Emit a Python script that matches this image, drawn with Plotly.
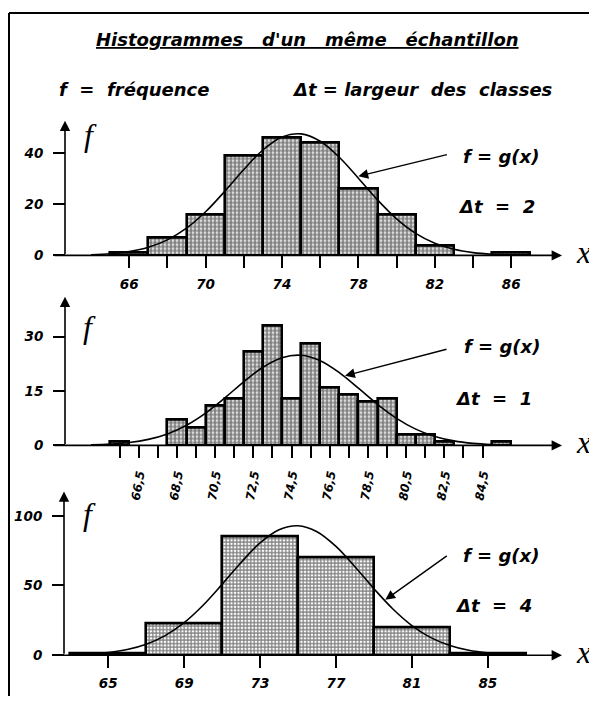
import plotly.graph_objects as go

# The page body has an 8px margin: figure pixel = reference pixel - 8
OFF = 8
W, H = 597 - OFF, 704 - OFF

# ---------------- data ----------------
# Δt = 2 : class centres and frequencies
centers_dt2 = [66, 68, 70, 72, 74, 76, 78, 80, 82, 84, 86]
freq_dt2 = [1, 7, 16, 39, 46, 44, 26, 16, 4, 0, 1]
# Δt = 1
centers_dt1 = [65.5, 66.5, 67.5, 68.5, 69.5, 70.5, 71.5, 72.5, 73.5, 74.5, 75.5,
               76.5, 77.5, 78.5, 79.5, 80.5, 81.5, 82.5, 83.5, 84.5, 85.5]
freq_dt1 = [1, 0, 0, 7, 5, 11, 13, 26, 33, 13, 28, 16, 14, 12, 13, 3, 3, 1, 0, 0, 1]
# Δt = 4
centers_dt4 = [65, 69, 73, 77, 81, 85]
freq_dt4 = [1, 23, 85, 70, 20, 1]

# curve f = g(x)
curve_x = [64, 65, 66, 67, 68, 69, 70, 71, 72, 73, 74, 75, 76, 77, 78, 79, 80, 81, 82, 83, 84, 85, 86]
curve_dt2 = [0.26, 0.66, 1.51, 3.17, 6.08, 10.66, 17.09, 25.07, 33.64, 41.29, 46.36, 47.61,
             44.74, 38.45, 30.23, 21.74, 14.30, 8.61, 4.74, 2.39, 1.10, 0.46, 0.18]
curve_dt1 = [0.14, 0.35, 0.79, 1.66, 3.17, 5.56, 8.92, 13.08, 17.56, 21.55, 24.20, 24.86,
             23.35, 20.07, 15.78, 11.35, 7.47, 4.49, 2.47, 1.25, 0.57, 0.24, 0.09]
curve_dt4 = [0.83, 1.90, 4.01, 7.81, 14.05, 23.35, 35.83, 50.81, 66.54, 80.51, 89.97, 92.86,
             88.55, 77.99, 63.45, 47.69, 33.10, 21.23, 12.57, 6.88, 3.47, 1.62, 0.70]

# ticks
xticks_dt2 = [66, 68, 70, 72, 74, 76, 78, 80, 82, 84, 86]
xlabels_dt2 = ["66", "", "70", "", "74", "", "78", "", "82", "", "86"]
xticks_dt1 = [65.5, 66.5, 67.5, 68.5, 69.5, 70.5, 71.5, 72.5, 73.5, 74.5, 75.5,
              76.5, 77.5, 78.5, 79.5, 80.5, 81.5, 82.5, 83.5, 84.5]
xlabels_dt1 = ["", "66,5", "", "68,5", "", "70,5", "", "72,5", "", "74,5", "",
               "76,5", "", "78,5", "", "80,5", "", "82,5", "", "84,5"]
xticks_dt4 = [65, 69, 73, 77, 81, 85]
xlabels_dt4 = ["65", "69", "73", "77", "81", "85"]
yticks_dt2 = [0, 20, 40]
yticks_dt1 = [0, 15, 30]
yticks_dt4 = [0, 50, 100]

# ---------------- layout helpers ----------------
FONT = "DejaVu Sans"
SERIF = "Liberation Serif"


def px_x(p):
    return (p - OFF) / W


def px_y(p):
    return 1 - (p - OFF) / H


panels = [
    dict(c=centers_dt2, f=freq_dt2, w=2, g=curve_dt2, xt=xticks_dt2, xl=xlabels_dt2, yt=yticks_dt2,
         xr=[62.01, 88.66], y0=258.3, yt_px=122, ytop=52.77, yax=65, pat=".", ang=0, xfs=13.5,
         dt="Δt\u00a0 = \u00a02", fpos=(90, 136), gtxt=(501, 158), dtxt=(496, 209),
         tip=(78.0, 31.0), tail=(90, -22)),
    dict(c=centers_dt1, f=freq_dt1, w=1, g=curve_dt1, xt=xticks_dt1, xl=xlabels_dt1, yt=yticks_dt1,
         xr=[62.01, 88.66], y0=450.5, yt_px=300, ytop=41.04, yax=65, pat=".", ang=-80, xfs=12,
         dt="Δt\u00a0 = \u00a01", fpos=(89, 331), gtxt=(502, 350), dtxt=(493, 403),
         tip=(77.3, 19.2), tail=(103, -27)),
    dict(c=centers_dt4, f=freq_dt4, w=4, g=curve_dt4, xt=xticks_dt4, xl=xlabels_dt4, yt=yticks_dt4,
         xr=[62.09, 88.91], y0=662.7, yt_px=497, ytop=117.5, yax=64, pat="+", ang=0, xfs=13.5,
         dt="Δt\u00a0 = \u00a04", fpos=(89, 520), gtxt=(501, 562), dtxt=(493, 612),
         tip=(79.6, 39.7), tail=(63, -45)),
]

fig = go.Figure()
annotations = []
shapes = []
L_px, R_px = 53, 562
TXT = dict(family=FONT, size=18, style="italic", color="black", weight="bold")

for i, p in enumerate(panels):
    n = "" if i == 0 else str(i + 1)
    xa, ya = "x" + n, "y" + n
    vals = [v if v > 0 else None for v in p["f"]]
    fig.add_trace(go.Bar(
        x=p["c"], y=vals, width=p["w"], xaxis=xa, yaxis=ya,
        marker=dict(color="white", line=dict(color="black", width=2.6),
                    pattern=dict(shape=p["pat"], fgcolor="black", bgcolor="white",
                                 size=4 if p["pat"] == "." else 3.5,
                                 solidity=0.72 if p["pat"] == "." else 0.6,
                                 fillmode="overlay")),
        hoverinfo="skip", showlegend=False))
    fig.add_trace(go.Scatter(
        x=curve_x, y=p["g"], mode="lines", xaxis=xa, yaxis=ya,
        line=dict(color="black", width=1.6, shape="spline", smoothing=1.0),
        hoverinfo="skip", showlegend=False))

    xdom = [px_x(L_px), px_x(R_px)]
    ydom = [px_y(p["y0"]), px_y(p["yt_px"])]
    ytickfont = dict(family=FONT, size=13.5, color="black", style="italic", weight="bold")
    xtickfont = dict(family=FONT, size=p["xfs"], color="black", style="italic", weight="bold")
    xkw = dict(domain=xdom, range=p["xr"], anchor=ya, showgrid=False, zeroline=False,
               showline=False, ticks="outside", ticklen=12, tickwidth=1.5, tickcolor="black",
               tickmode="array", tickvals=p["xt"], ticktext=p["xl"], tickfont=xtickfont,
               tickangle=p["ang"], ticklabelstandoff=4, fixedrange=True)
    ykw = dict(domain=ydom, range=[0, p["ytop"]], anchor="free",
               position=px_x(p["yax"]), showgrid=False, zeroline=False, showline=False,
               ticks="outside", ticklen=12, tickwidth=1.5, tickcolor="black",
               tickmode="array", tickvals=p["yt"], ticktext=[str(v) for v in p["yt"]],
               tickfont=ytickfont, ticklabelstandoff=7, fixedrange=True)
    if i == 0:
        fig.update_layout(xaxis=xkw, yaxis=ykw)
    else:
        fig.update_layout(**{"xaxis" + n: xkw, "yaxis" + n: ykw})

    # axes drawn as arrows
    yax_val = p["xr"][0] + (p["yax"] - L_px) / (R_px - L_px) * (p["xr"][1] - p["xr"][0])
    annotations.append(dict(x=p["xr"][1], y=0, xref=xa, yref=ya, ax=p["xr"][0], ay=0,
                            axref=xa, ayref=ya, text="", showarrow=True, arrowhead=2,
                            arrowsize=1.3, arrowwidth=1.6, arrowcolor="black", standoff=0))
    annotations.append(dict(x=yax_val, y=p["ytop"], xref=xa, yref=ya, ax=yax_val, ay=0,
                            axref=xa, ayref=ya, text="", showarrow=True, arrowhead=2,
                            arrowsize=1.3, arrowwidth=1.6, arrowcolor="black", standoff=0))
    # f and x labels
    annotations.append(dict(x=px_x(p["fpos"][0]), y=px_y(p["fpos"][1]), xref="paper", yref="paper",
                            text="f", showarrow=False, xanchor="center", yanchor="middle",
                            font=dict(family=SERIF, size=32, style="italic", color="black")))
    annotations.append(dict(x=px_x(583), y=px_y(p["y0"] - 3), xref="paper", yref="paper",
                            text="x", showarrow=False, xanchor="center", yanchor="middle",
                            font=dict(family=SERIF, size=32, style="italic", color="black")))
    # f = g(x) and Δt
    annotations.append(dict(x=px_x(p["gtxt"][0]), y=px_y(p["gtxt"][1]), xref="paper", yref="paper",
                            text="f\u00a0= g(x)", showarrow=False, xanchor="center", yanchor="middle",
                            font=TXT))
    annotations.append(dict(x=px_x(p["dtxt"][0]), y=px_y(p["dtxt"][1]), xref="paper", yref="paper",
                            text=p["dt"], showarrow=False, xanchor="center", yanchor="middle",
                            font=TXT))
    annotations.append(dict(x=p["tip"][0], y=p["tip"][1], xref=xa, yref=ya,
                            ax=p["tail"][0], ay=p["tail"][1], text="", showarrow=True,
                            arrowhead=2, arrowsize=1.4, arrowwidth=1.4, arrowcolor="black",
                            standoff=0))

# title and legend lines
annotations.append(dict(x=px_x(307), y=px_y(40), xref="paper", yref="paper",
                        text="Histogrammes\u00a0\u00a0 d'un\u00a0\u00a0 même\u00a0\u00a0 échantillon",
                        showarrow=False, xanchor="center", yanchor="middle",
                        font=dict(TXT, lineposition="under")))
annotations.append(dict(x=px_x(57), y=px_y(90), xref="paper", yref="paper",
                        text="f\u00a0 = \u00a0fréquence", showarrow=False, xanchor="left",
                        yanchor="middle", font=TXT))
annotations.append(dict(x=px_x(290), y=px_y(90), xref="paper", yref="paper",
                        text="Δt = largeur\u00a0 des\u00a0 classes", showarrow=False,
                        xanchor="left", yanchor="middle", font=TXT))

# frame (left and top edges)
shapes.append(dict(type="line", xref="paper", yref="paper", x0=px_x(9), x1=px_x(9),
                   y0=0, y1=px_y(13), line=dict(color="black", width=2)))
shapes.append(dict(type="line", xref="paper", yref="paper", x0=px_x(9), x1=1,
                   y0=px_y(13), y1=px_y(13), line=dict(color="black", width=2)))

fig.update_layout(width=W, height=H, margin=dict(l=0, r=0, t=0, b=0),
                  paper_bgcolor="white", plot_bgcolor="rgba(0,0,0,0)",
                  showlegend=False, bargap=0, annotations=annotations, shapes=shapes)

fig.write_html("out.html")
